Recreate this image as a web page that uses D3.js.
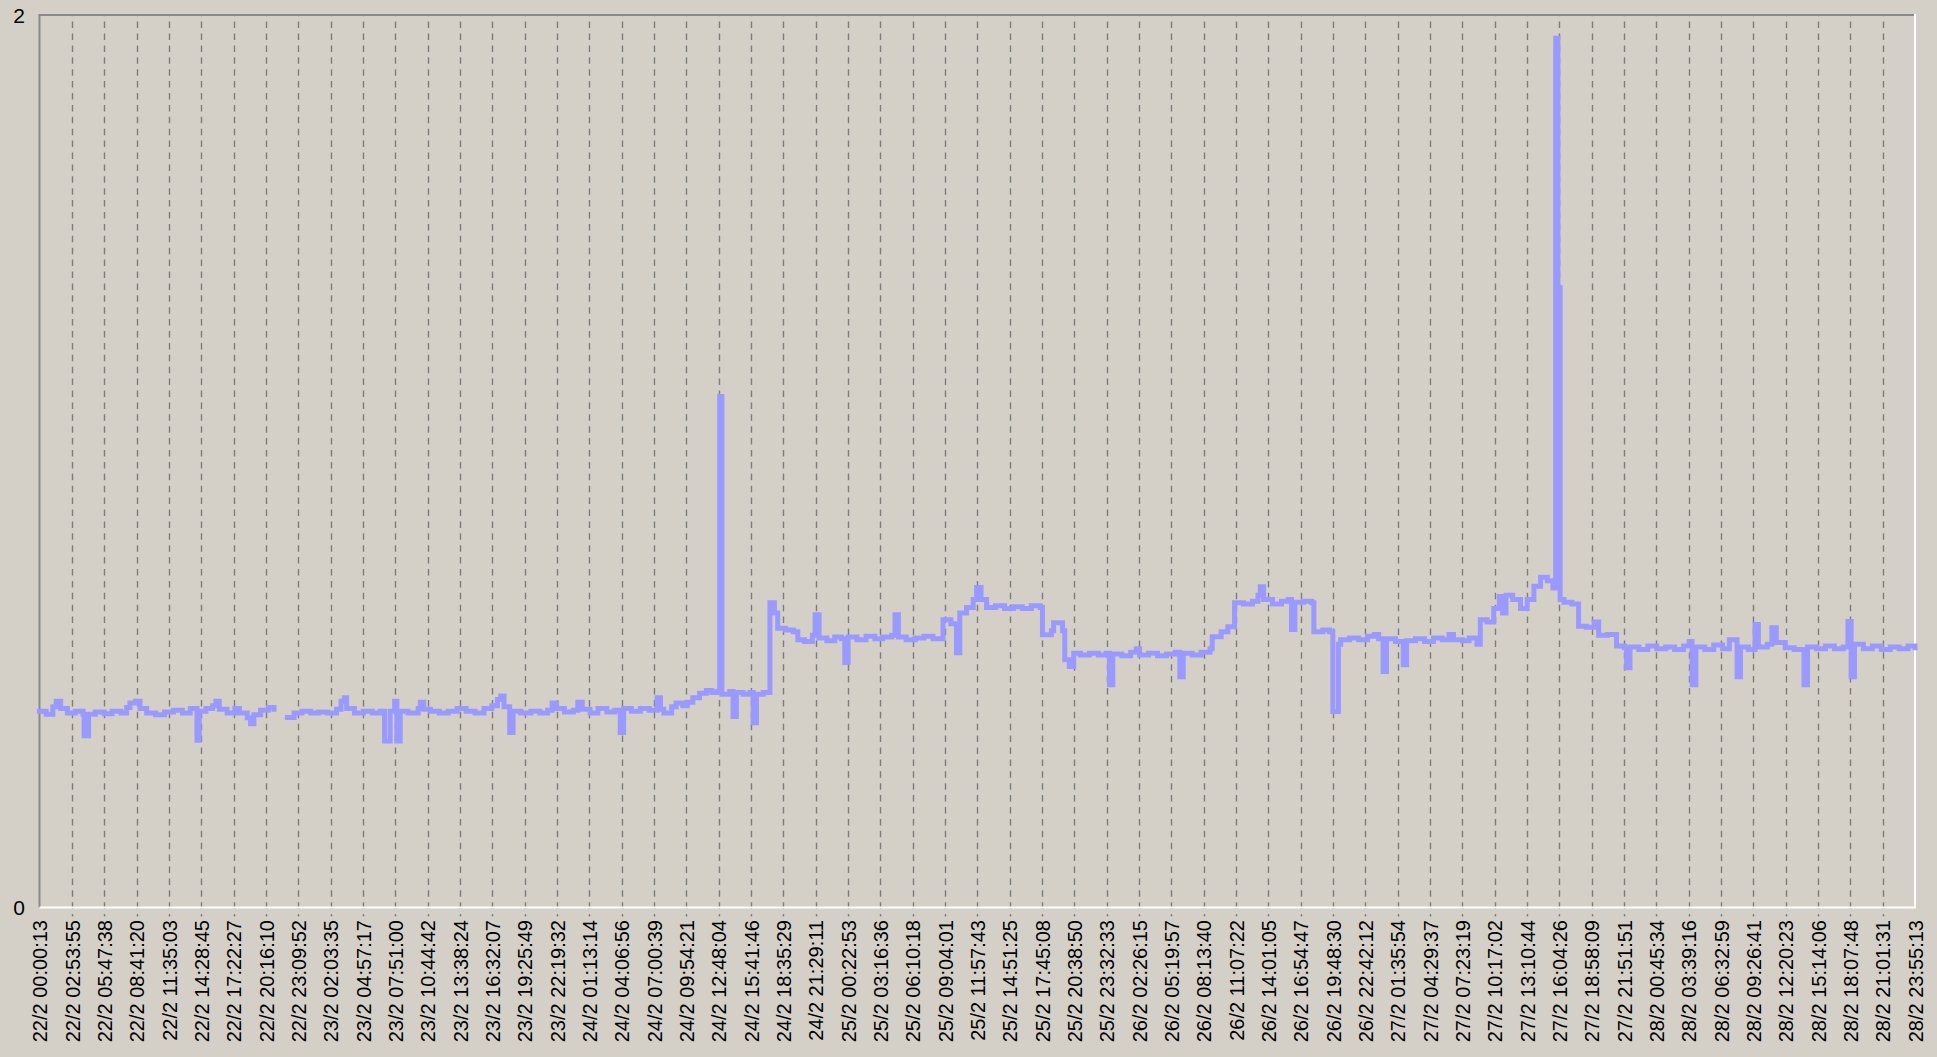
<!DOCTYPE html>
<html>
<head>
<meta charset="utf-8">
<script src="https://cdn.jsdelivr.net/npm/d3@7"></script>
<style>
html, body { margin: 0; padding: 0; background: #d4d0c8; overflow: hidden; }
svg { display: block; }
text { font-family: "Liberation Sans", Arial, sans-serif; fill: #000; }
</style>
</head>
<body>
<svg id="chart" width="1937" height="1057"></svg>
<script>
// ---- tick labels (x axis) ----
const tickLabels = [
"22/2 00:00:13","22/2 02:53:55","22/2 05:47:38","22/2 08:41:20","22/2 11:35:03","22/2 14:28:45","22/2 17:22:27","22/2 20:16:10","22/2 23:09:52",
"23/2 02:03:35","23/2 04:57:17","23/2 07:51:00","23/2 10:44:42","23/2 13:38:24","23/2 16:32:07","23/2 19:25:49","23/2 22:19:32",
"24/2 01:13:14","24/2 04:06:56","24/2 07:00:39","24/2 09:54:21","24/2 12:48:04","24/2 15:41:46","24/2 18:35:29","24/2 21:29:11",
"25/2 00:22:53","25/2 03:16:36","25/2 06:10:18","25/2 09:04:01","25/2 11:57:43","25/2 14:51:25","25/2 17:45:08","25/2 20:38:50","25/2 23:32:33",
"26/2 02:26:15","26/2 05:19:57","26/2 08:13:40","26/2 11:07:22","26/2 14:01:05","26/2 16:54:47","26/2 19:48:30","26/2 22:42:12",
"27/2 01:35:54","27/2 04:29:37","27/2 07:23:19","27/2 10:17:02","27/2 13:10:44","27/2 16:04:26","27/2 18:58:09","27/2 21:51:51",
"28/2 00:45:34","28/2 03:39:16","28/2 06:32:59","28/2 09:26:41","28/2 12:20:23","28/2 15:14:06","28/2 18:07:48","28/2 21:01:31","28/2 23:55:13"
];
const yTickValues = [0, 2];
const yDomain = [0, 2];

// ---- series: hours since 22/2 00:00, value (null = missing) ----
const seriesHours = [
0.00,0.6,1.2,1.5,1.9,2.5,3.2,3.9,4.0,4.4,5.0,5.8,6.5,7.3,7.8,8.1,8.6,9.0,9.6,10.4,11.2,12.0,12.8,13.5,14.1,14.3,14.9,15.5,15.8,16.1,16.8,17.5,17.9,18.6,18.9,19.2,19.8,20.5,21.0,21.4,
22.2,22.8,23.5,24.3,25.0,25.8,26.6,27.0,27.3,27.5,28.2,29.0,29.8,30.5,30.9,31.4,31.8,32.0,32.3,33.0,33.9,34.1,34.4,35.0,35.8,36.6,37.4,38.2,39.0,39.8,40.5,41.0,41.3,41.6,42.1,42.4,43.1,44.0,44.8,
45.5,45.9,46.3,47.0,47.8,48.2,48.6,49.3,50.0,50.8,51.5,52.0,52.3,53.0,53.8,54.6,55.3,55.6,55.9,56.6,57.0,57.6,58.0,58.5,59.1,59.7,60.2,60.7,60.9,61.1,61.8,62.1,62.4,63.0,63.6,63.9,64.2,64.8,
65.4,65.8,66.1,66.8,67.5,67.9,68.5,69.2,69.45,69.8,70.5,71.2,71.8,72.1,72.4,73.2,74.0,74.8,75.5,76.3,76.6,76.9,77.6,78.4,79.2,80.0,80.9,81.6,82.1,82.4,83.0,83.6,83.9,84.3,84.8,85.6,86.4,87.2,88.0,88.8,89.6,
89.8,90.6,90.8,91.6,91.8,92.2,92.6,93.2,94.0,94.8,95.5,95.8,96.1,96.9,97.7,98.2,98.5,99.3,100.1,100.9,101.7,102.1,102.4,103.2,104.0,104.8,105.0,105.8,106.4,107.0,107.8,108.6,109.1,109.3,109.6,110.4,111.2,111.8,112.1,112.4,113.2,113.9,
114.1,114.9,115.5,115.8,116.3,116.5,117.3,118.1,118.9,119.5,119.9,120.3,120.6,121.4,122.1,122.4,123.2,124.0,124.8,125.6,126.2,126.6,127.4,128.0,128.7,129.0,129.6,130.2,130.7,131.0,131.3,131.9,132.6,133.2,133.8,134.4,135.0,135.5,
135.75,135.95,136.15,136.5,137.2,137.8,138.5,139.2,139.6,140.4,141.2,141.9,142.1,142.4,143.2,144.0,144.8,145.6,146.4,147.2,147.7,147.96,148.3,149.1,149.9,150.7,151.3,151.99,152.3,153.0,153.6,153.9,154.7,155.1,155.5,156.3,157.1,157.98,158.3,159.1,159.9,160.7,161.5,161.92,162.2,162.5,163.3,164.1,164.9,165.7,166.5,167.3,167.92
];
const seriesValues = [
0.440,0.433,0.450,0.462,0.446,0.436,0.440,0.433,0.385,0.433,0.438,0.434,0.440,0.436,0.448,0.458,0.462,0.446,0.436,0.432,0.438,0.442,0.436,0.446,0.375,0.440,0.446,0.452,0.462,0.444,0.436,0.446,0.436,0.425,0.412,0.432,0.442,0.448,0.444,null,
0.426,0.436,0.440,0.436,0.438,0.436,0.444,0.462,0.470,0.446,0.436,0.440,0.436,0.440,0.373,0.440,0.462,0.373,0.440,0.436,0.446,0.460,0.444,0.440,0.436,0.440,0.446,0.440,0.436,0.446,0.452,0.466,0.474,0.450,0.392,0.440,0.436,0.440,0.436,
0.442,0.458,0.446,0.438,0.442,0.460,0.444,0.436,0.446,0.438,0.442,0.392,0.446,0.440,0.446,0.442,0.470,0.444,0.436,0.450,0.458,0.452,0.460,0.470,0.480,0.486,0.482,0.484,1.145,0.478,0.484,0.428,0.482,0.478,0.482,0.414,0.478,0.482,
0.683,0.660,0.626,0.622,0.618,0.600,0.596,0.610,0.656,0.604,0.598,0.606,0.602,0.549,0.606,0.600,0.608,0.602,0.606,0.610,0.656,0.606,0.600,0.604,0.608,0.602,0.645,0.636,0.571,0.660,0.672,0.690,0.717,0.690,0.672,0.676,0.670,0.674,0.670,0.676,0.672,
0.611,0.620,0.638,0.620,0.555,0.540,0.570,0.566,0.570,0.566,0.570,0.499,0.568,0.564,0.572,0.580,0.566,0.570,0.564,0.568,0.572,0.517,0.570,0.566,0.572,0.580,0.607,0.618,0.629,0.683,0.680,0.686,0.700,0.719,0.690,0.680,0.686,0.690,0.623,0.684,0.686,0.683,
0.618,0.622,0.618,0.439,0.590,0.600,0.604,0.600,0.608,0.612,0.602,0.529,0.602,0.596,0.544,0.598,0.602,0.596,0.604,0.600,0.612,0.600,0.598,0.604,0.590,0.645,0.640,0.670,0.697,0.660,0.700,0.690,0.670,0.690,0.720,0.740,0.732,0.716,
1.948,1.389,0.690,0.684,0.680,0.630,0.628,0.640,0.610,0.612,0.586,0.582,0.537,0.584,0.578,0.586,0.580,0.584,0.578,0.586,0.596,0.499,0.584,0.578,0.588,0.580,0.600,0.517,0.584,0.578,0.634,0.584,0.590,0.627,0.594,0.582,0.578,0.499,0.584,0.580,0.586,0.580,0.584,0.641,0.517,0.590,0.580,0.586,0.578,0.584,0.580,0.586,0.582
];

// ---- layout ----
const W = 1937, H = 1057;
const plotL = 39.5, plotR = 1915, plotT = 15, plotB = 907.5;

function parseLabel(s) {
  const [d, t] = s.split(" ");
  const day = +d.split("/")[0];
  const [hh, mm, ss] = t.split(":").map(Number);
  return (day - 22) * 24 + hh + mm / 60 + ss / 3600;
}
const tickHours = tickLabels.map(parseLabel);

const x = d3.scaleLinear().domain([tickHours[0], tickHours[tickHours.length - 1]]).range([plotL, plotR]);
const y = d3.scaleLinear().domain(yDomain).range([plotB, plotT]);

const svg = d3.select("#chart");
svg.append("rect").attr("width", W).attr("height", H).attr("fill", "#d4d0c8");

// gridlines (dashed) for interior ticks
svg.append("g").selectAll("line")
  .data(tickHours.slice(1, -1))
  .join("line")
  .attr("x1", d => Math.round(x(d)) + 0.5).attr("x2", d => Math.round(x(d)) + 0.5)
  .attr("y1", plotT).attr("y2", plotB + 9)
  .attr("stroke", "#7c7c7c").attr("stroke-width", 1.4)
  .attr("stroke-dasharray", "6.5,5.4").attr("stroke-dashoffset", 5.3);

// frame (sunken)
svg.append("line").attr("x1", plotL - 1).attr("x2", plotR).attr("y1", plotT).attr("y2", plotT).attr("stroke", "#8a8a8a").attr("stroke-width", 2);
svg.append("line").attr("x1", plotL).attr("x2", plotL).attr("y1", plotT).attr("y2", plotB).attr("stroke", "#8a8a8a").attr("stroke-width", 2);
svg.append("line").attr("x1", plotL).attr("x2", plotR + 1).attr("y1", plotB).attr("y2", plotB).attr("stroke", "#ffffff").attr("stroke-width", 2);
svg.append("line").attr("x1", plotR).attr("x2", plotR).attr("y1", plotT - 1).attr("y2", plotB).attr("stroke", "#ffffff").attr("stroke-width", 2);

// series
const n = Math.min(seriesHours.length, seriesValues.length);
const pts = d3.range(n).map(i => ({ h: seriesHours[i], v: seriesValues[i] }));
const line = d3.line()
  .defined(d => d.v !== null)
  .x(d => x(d.h)).y(d => y(d.v))
  .curve(d3.curveStepAfter);
svg.append("path").datum(pts)
  .attr("d", line)
  .attr("fill", "none")
  .attr("stroke", "#9999ff")
  .attr("stroke-width", 5)
  .attr("stroke-linejoin", "miter")
  .attr("stroke-linecap", "square");

// y labels
svg.append("g").selectAll("text")
  .data(yTickValues)
  .join("text")
  .attr("x", 19).attr("y", d => y(d))
  .attr("text-anchor", "middle")
  .attr("dy", "0.36em")
  .attr("font-size", 21)
  .text(d => d);

// x labels (rotated)
svg.append("g").selectAll("text")
  .data(tickLabels)
  .join("text")
  .attr("transform", (d, i) => `translate(${x(tickHours[i]) + 0.5},920) rotate(-90)`)
  .attr("text-anchor", "end")
  .attr("dy", "0.36em")
  .attr("font-size", 20)
  .text(d => d);
</script>
</body>
</html>
